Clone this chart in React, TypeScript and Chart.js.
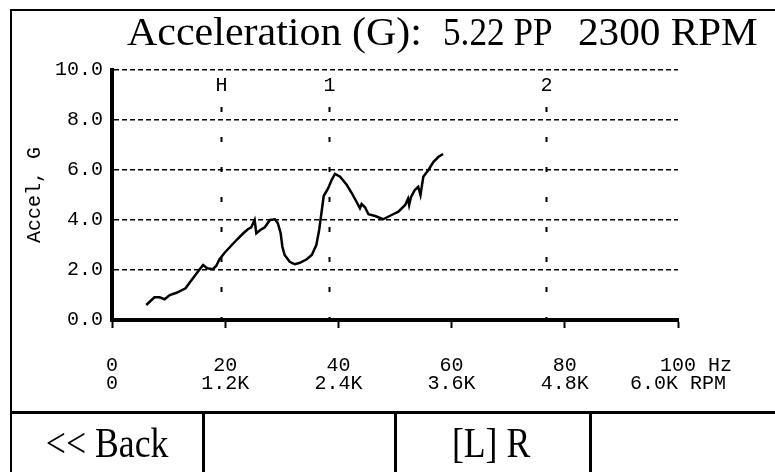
import React, { useEffect, useRef } from "react";
import { Chart, registerables } from "chart.js";
Chart.register(...registerables);

// Spectrum trace (frequency in Hz, acceleration in G)
const freqHz = [6.05, 7.5, 8.4, 9.3, 10.2, 11.4, 13.0, 13.7, 14.6, 15.4, 16.1, 16.8, 17.8, 18.4, 19.0, 19.9, 20.8, 22.0, 23.2, 24.0, 24.6, 25.2, 25.5, 26.2, 27.0, 27.9, 28.8, 29.3, 29.8, 30.1, 30.5, 31.4, 32.3, 33.2, 34.4, 35.3, 36.1, 36.6, 37.0, 37.4, 38.2, 38.8, 39.4, 40.3, 41.5, 42.3, 43.2, 43.8, 44.1, 44.7, 45.3, 46.5, 47.9, 49.4, 50.6, 51.8, 52.3, 52.5, 52.8, 53.5, 54.1, 54.5, 55.0, 55.9, 56.8, 57.7, 58.5];
const accelG = [0.6, 0.91, 0.91, 0.83, 1.0, 1.09, 1.27, 1.49, 1.76, 2.0, 2.2, 2.07, 2.03, 2.16, 2.43, 2.69, 2.91, 3.2, 3.47, 3.63, 3.71, 4.0, 3.47, 3.6, 3.71, 4.0, 4.03, 3.87, 3.47, 2.93, 2.6, 2.33, 2.23, 2.29, 2.43, 2.6, 3.0, 3.6, 4.27, 4.96, 5.27, 5.6, 5.84, 5.73, 5.4, 5.1, 4.73, 4.47, 4.64, 4.51, 4.23, 4.16, 4.03, 4.2, 4.33, 4.6, 4.85, 4.6, 4.9, 5.2, 5.33, 5.0, 5.73, 6.0, 6.33, 6.53, 6.64];

// Axis tick labels
const hzTickLabels = ["0", "20", "40", "60", "80", "100"];
const rpmTickLabels = ["0", "1.2K", "2.4K", "3.6K", "4.8K", "6.0K"];
const hzUnit = "Hz";
const rpmUnit = "RPM";

// Order markers (half, 1x, 2x of running speed 2300 RPM)
const markerLabels = ["H", "1", "2"];
const markerHz = [19.17, 38.33, 76.67];

// Header and buttons
const titleParts = ["Acceleration (G):", "5.22 PP", "2300 RPM"];
const buttonLabels = ["<< Back", "", "[L] R", ""];
const yAxisTitle = "Accel, G";

const MONO = "'Liberation Mono', 'DejaVu Sans Mono', monospace";
const SERIF = "'Liberation Serif', 'DejaVu Serif', serif";

const markerPlugin = {
  id: "orderMarkers",
  afterDatasetsDraw(chart: any) {
    const { ctx, chartArea, scales } = chart;
    const xs = scales.x;
    ctx.save();
    ctx.strokeStyle = "#000";
    ctx.fillStyle = "#000";
    ctx.lineWidth = 2;
    ctx.font = `20px ${MONO}`;
    ctx.textAlign = "center";
    ctx.textBaseline = "middle";
    markerHz.forEach((hz, i) => {
      const px = Math.round(xs.getPixelForValue(hz)) + 0.5;
      ctx.setLineDash([5, 25]);
      ctx.beginPath();
      ctx.moveTo(px, chartArea.top + 37);
      ctx.lineTo(px, chartArea.bottom);
      ctx.stroke();
      ctx.setLineDash([]);
      ctx.fillText(markerLabels[i], px, chartArea.top + 16);
    });
    ctx.restore();
  },
};

export default function App() {
  const canvasRef = useRef<HTMLCanvasElement | null>(null);

  useEffect(() => {
    document.body.style.margin = "0";
    const canvas = canvasRef.current;
    if (!canvas) return;
    const points = freqHz.map((f, i) => ({ x: f, y: accelG[i] }));
    const last = hzTickLabels.length - 1;
    const chart = new Chart(canvas, {
      type: "line",
      data: {
        datasets: [
          {
            data: points,
            borderColor: "#000",
            borderWidth: 2.5,
            pointRadius: 0,
            tension: 0,
            fill: false,
          },
        ],
      },
      options: {
        animation: false,
        responsive: false,
        devicePixelRatio: 1,
        layout: { padding: { left: 0, right: 97, top: 70, bottom: 0 } },
        plugins: {
          legend: { display: false },
          tooltip: { enabled: false },
          title: { display: false },
        },
        scales: {
          x: {
            type: "linear",
            min: 0,
            max: 100,
            afterFit: (s: any) => {
              s.height = 152;
            },
            grid: {
              display: true,
              drawOnChartArea: false,
              drawTicks: true,
              tickLength: 8,
              tickWidth: 2,
              tickColor: "#000",
            },
            border: { display: true, color: "#000", width: 4 },
            ticks: {
              stepSize: 20,
              autoSkip: false,
              maxRotation: 0,
              color: "#000",
              padding: 29,
              font: { family: MONO, size: 20, lineHeight: "18px" as any },
              callback: (_v: any, i: number) =>
                i === last
                  ? ["   " + hzTickLabels[i] + " " + hzUnit, rpmTickLabels[i] + " " + rpmUnit]
                  : [hzTickLabels[i], rpmTickLabels[i]],
            },
          },
          y: {
            min: 0,
            max: 10,
            afterFit: (s: any) => {
              s.width = 112;
            },
            grid: {
              display: true,
              drawTicks: false,
              color: "#000",
              lineWidth: 1.5,
            },
            border: { display: true, color: "#000", width: 4, dash: [5, 3] },
            ticks: {
              stepSize: 2,
              color: "#000",
              padding: 9,
              font: { family: MONO, size: 20 },
              callback: (v: any) => Number(v).toFixed(1),
            },
            title: {
              display: true,
              text: yAxisTitle,
              color: "#000",
              font: { family: MONO, size: 20, lineHeight: "24px" as any },
              padding: { top: 23, bottom: 0 },
            },
          },
        },
      },
      plugins: [markerPlugin],
    });
    return () => chart.destroy();
  }, []);

  const black = "#000";
  const cellEdges = [12, 202, 394, 589, 775];
  const titleLeft = [127, 443, 578];
  const titleScale = [1.05, 0.88, 1.03];

  return (
    <div style={{ position: "fixed", left: 0, top: 0, width: 775, height: 472, background: "#fff", overflow: "hidden" }}>
      <canvas ref={canvasRef} width={775} height={472} style={{ position: "absolute", left: 0, top: 0, width: 775, height: 472 }} />
      {/* frame */}
      <div style={{ position: "absolute", left: 10, top: 9, width: 765, height: 2, background: black }} />
      <div style={{ position: "absolute", left: 10, top: 9, width: 2, height: 463, background: black }} />
      <div style={{ position: "absolute", left: 10, top: 411, width: 765, height: 3, background: black }} />
      {cellEdges.slice(1, 4).map((x, i) => (
        <div key={i} style={{ position: "absolute", left: x, top: 411, width: 3, height: 61, background: black }} />
      ))}
      {/* title */}
      {titleParts.map((t, i) => (
        <div
          key={t}
          style={{
            position: "absolute",
            left: titleLeft[i],
            top: 12,
            fontFamily: SERIF,
            fontSize: 40,
            lineHeight: "40px",
            whiteSpace: "pre",
            color: black,
            transform: `scaleX(${titleScale[i]})`,
            transformOrigin: "left center",
          }}
        >
          {t}
        </div>
      ))}
      {/* buttons */}
      {buttonLabels.map((t, i) => (
        <div
          key={i}
          style={{
            position: "absolute",
            left: cellEdges[i],
            top: 414,
            width: cellEdges[i + 1] - cellEdges[i],
            height: 58,
            display: "flex",
            alignItems: "center",
            justifyContent: "center",
            fontFamily: SERIF,
            fontSize: 42,
            color: black,
            whiteSpace: "pre",
          }}
        >
          <span style={{ display: "inline-block", transform: "scaleX(0.85)" }}>{t}</span>
        </div>
      ))}
    </div>
  );
}
